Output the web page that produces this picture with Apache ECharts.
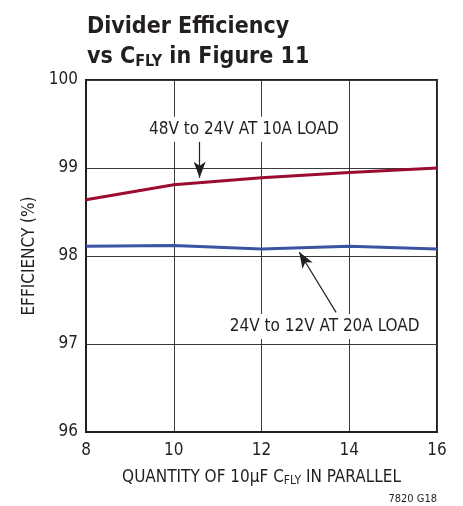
<!DOCTYPE html>
<html><head><meta charset="utf-8">
<script src="https://cdn.jsdelivr.net/npm/echarts@6/dist/echarts.min.js"></script>
<style>html,body{margin:0;padding:0;background:#fff}#c{width:463px;height:506px}</style>
</head><body><div id="c"></div>
<script>
const quantities = [8, 10, 12, 14, 16];
const eff48to24 = [98.64, 98.81, 98.89, 98.95, 99.0];
const eff24to12 = [98.11, 98.12, 98.08, 98.11, 98.08];
const xTicks = [8, 10, 12, 14, 16];
const yTicks = [96, 97, 98, 99, 100];
const label48 = '48V to 24V AT 10A LOAD';
const label24 = '24V to 12V AT 20A LOAD';

const FONT = '"Liberation Sans Narrow", "DejaVu Sans Condensed", "Liberation Sans", sans-serif';
const TXT = '#231f20';
const chart = echarts.init(document.getElementById('c'), null, {renderer: 'canvas'});

const option = {
  animation: false,
  backgroundColor: '#fff',
  textStyle: {fontFamily: FONT, color: TXT},
  title: {
    text: 'Divider Efficiency\nvs C{sub|FLY} in Figure 11',
    left: 82, top: 7,
    textStyle: {
      fontFamily: FONT, fontWeight: 'bold', fontSize: 23, color: TXT, lineHeight: 30,
      rich: {sub: {fontFamily: FONT, fontWeight: 'bold', fontSize: 16, color: TXT, padding: [9, 0, 0, 0]}}
    }
  },
  grid: {left: 86, right: 26, top: 80, bottom: 74, show: true, borderColor: '#231f20', borderWidth: 2},
  xAxis: {
    type: 'value', min: xTicks[0], max: xTicks[xTicks.length - 1], interval: 2,
    name: 'QUANTITY OF 10µF C{sub|FLY} IN PARALLEL', nameLocation: 'middle', nameGap: 36,
    nameTextStyle: {fontFamily: FONT, fontSize: 17, color: TXT,
      rich: {sub: {fontFamily: FONT, fontSize: 12, color: TXT, padding: [7, 0, 0, 0]}}},
    axisLine: {show: true, lineStyle: {color: '#231f20', width: 2}},
    axisTick: {show: false},
    axisLabel: {fontFamily: FONT, fontSize: 17, color: TXT, margin: 10},
    splitLine: {show: true, lineStyle: {color: '#3a3a3a', width: 1}}
  },
  yAxis: {
    type: 'value', min: yTicks[0], max: yTicks[yTicks.length - 1], interval: 1,
    name: 'EFFICIENCY (%)', nameLocation: 'middle', nameGap: 45,
    nameTextStyle: {fontFamily: FONT, fontSize: 17, color: TXT},
    axisLine: {show: true, lineStyle: {color: '#231f20', width: 2}},
    axisTick: {show: false},
    axisLabel: {fontFamily: FONT, fontSize: 17, color: TXT, margin: 8},
    splitLine: {show: true, lineStyle: {color: '#3a3a3a', width: 1}}
  },
  series: [
    {
      type: 'line', name: label48, data: quantities.map((q, i) => [q, eff48to24[i]]),
      showSymbol: false, lineStyle: {color: '#9b0c30', width: 3}, z: 5,
      markLine: {
        silent: true, symbol: ['none', 'arrow'], symbolSize: [9, 16],
        lineStyle: {color: '#231f20', width: 1.2, type: 'solid'}, label: {show: false},
        data: [[{coord: [10.59, 99.30]}, {coord: [10.59, 98.89]}]]
      }
    },
    {
      type: 'line', name: label24, data: quantities.map((q, i) => [q, eff24to12[i]]),
      showSymbol: false, lineStyle: {color: '#3a54a4', width: 3}, z: 5,
      markLine: {
        silent: true, symbol: ['none', 'arrow'], symbolSize: [9, 16],
        lineStyle: {color: '#231f20', width: 1.2, type: 'solid'}, label: {show: false},
        data: [[{coord: [13.70, 97.36]}, {coord: [12.86, 98.045]}]]
      }
    }
  ]
};
chart.setOption(option);

function placeLabels() {
  const p1 = chart.convertToPixel({gridIndex: 0}, [11.6, 99.44]);
  const p2 = chart.convertToPixel({gridIndex: 0}, [13.44, 97.2]);
  const p3 = chart.convertToPixel({gridIndex: 0}, [16, 96]);
  chart.setOption({
    graphic: [
      {type: 'text', x: p1[0], y: p1[1], z: 10,
        style: {text: label48, fontFamily: FONT, fontSize: 17, fill: TXT, align: 'center', verticalAlign: 'middle',
          backgroundColor: '#fff', padding: [4, 4, 4, 4]}},
      {type: 'text', x: p2[0], y: p2[1], z: 10,
        style: {text: label24, fontFamily: FONT, fontSize: 17, fill: TXT, align: 'center', verticalAlign: 'middle',
          backgroundColor: '#fff', padding: [4, 4, 4, 4]}},
      {type: 'text', x: p3[0], y: p3[1] + 67, z: 10,
        style: {text: '7820 G18', fontFamily: FONT, fontSize: 11, fill: TXT, align: 'right', verticalAlign: 'middle'}}
    ]
  });
}
placeLabels();
</script></body></html>
